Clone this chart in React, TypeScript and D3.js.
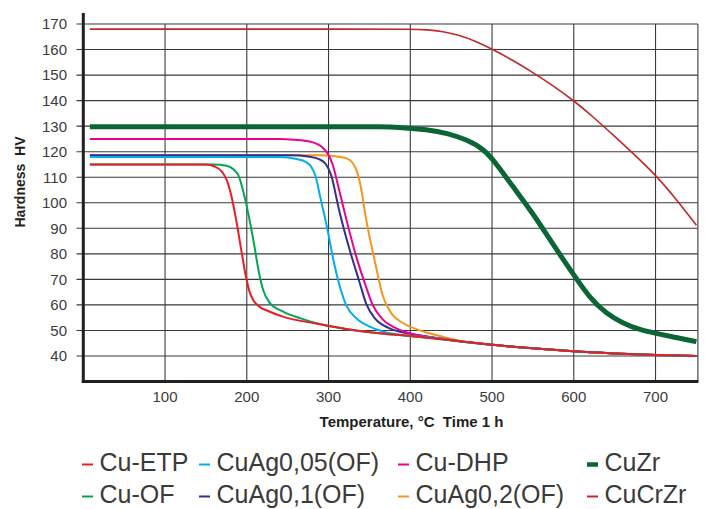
import React from "react";
import * as d3 from "d3";

// ---- data (temperature °C, hardness HV) ----
const cuEtp: [number, number][] = [
  [8, 115], [150, 115], [160, 114.3], [170, 112], [176, 108.5], [182, 101.5], [188, 91.5], [194, 80],
  [199, 71], [203, 65.5], [208, 61.8], [215, 59.4], [226, 57.6], [245, 55.3], [285, 52.7], [325, 50.4],
  [365, 48.8], [400, 47.8], [450, 46.2], [500, 44.4], [550, 43], [600, 41.8], [650, 41], [700, 40.4], [750, 40],
];
const cuOf: [number, number][] = [
  [8, 115], [160, 115], [175, 114.5], [184, 113], [190, 110.5], [194, 106.5], [199, 100], [208, 85.4],
  [215, 72.5], [220, 65.8], [228, 60.8], [245, 57.3], [265, 54.8], [285, 52.8], [325, 50.4], [365, 48.8],
  [400, 47.8], [450, 46.2], [500, 44.4], [550, 43], [600, 41.8], [650, 41], [700, 40.4], [750, 40],
];
const cuAg005: [number, number][] = [
  [8, 117.9], [240, 117.9], [261, 117.1], [272, 116], [279, 114], [284, 110.5], [290, 102], [298, 90.6],
  [306, 77.5], [314, 67], [322, 59.6], [334, 54.8], [351, 51.4], [367, 49.5], [390, 48.2], [425, 47.2],
  [450, 46.2], [500, 44.4], [550, 43], [600, 41.8], [650, 41], [700, 40.4], [750, 40],
];
const cuAg01: [number, number][] = [
  [8, 118.6], [255, 118.6], [275, 118.1], [289, 117], [297, 115], [303, 111], [313, 97], [326, 81.4],
  [338, 68.8], [346, 60.5], [357, 54.6], [374, 50.9], [400, 48.7], [425, 47.3], [450, 46.2], [500, 44.4],
  [550, 43], [600, 41.8], [650, 41], [700, 40.4], [750, 40],
];
const cuDhp: [number, number][] = [
  [8, 125], [240, 125], [258, 124.7], [278, 123.9], [292, 121.8], [300, 118.7], [305, 115], [312, 106.3],
  [322, 93.2], [334, 78.8], [346, 67], [354, 60], [366, 54.4], [383, 50.8], [404, 48.5], [425, 47.4],
  [450, 46.2], [500, 44.4], [550, 43], [600, 41.8], [650, 41], [700, 40.4], [750, 40],
];
const cuAg02: [number, number][] = [
  [8, 118.6], [290, 118.6], [305, 118.3], [322, 117.4], [332, 114.3], [338, 108.5], [346, 93.5],
  [358, 75], [366, 64], [375, 57.6], [391, 52.9], [408, 50.4], [430, 48.3], [460, 46], [500, 44.4],
  [550, 43], [600, 41.8], [650, 41], [700, 40.4], [750, 40],
];
const cuZr: [number, number][] = [
  [8, 129.8], [330, 129.8], [360, 129.8], [390, 129.5], [420, 128.7], [445, 127.3], [470, 124.6],
  [490, 121], [505, 115.5], [525, 106.5], [550, 95.9], [575, 83.5], [600, 71.7], [620, 62.5],
  [640, 56.5], [660, 52.8], [680, 50.3], [700, 48.9], [725, 47.2], [750, 45.6],
];
const cuCrZr: [number, number][] = [
  [8, 168], [370, 168], [400, 168], [420, 167.8], [440, 167.1], [460, 165.6], [480, 163.3],
  [500, 160.2], [525, 155.9], [550, 151], [575, 145.8], [600, 140], [625, 133.3], [650, 126],
  [675, 118.6], [700, 110.9], [725, 101.6], [750, 91.2],
];

const seriesNames = ["Cu-ETP", "CuAg0,05(OF)", "Cu-DHP", "CuZr", "Cu-OF", "CuAg0,1(OF)", "CuAg0,2(OF)", "CuCrZr"];
const seriesData = [cuEtp, cuAg005, cuDhp, cuZr, cuOf, cuAg01, cuAg02, cuCrZr];
const seriesColors = ["#ed1c24", "#00aeef", "#ec008c", "#0b6535", "#00a651", "#2e3192", "#f7941d", "#c1272d"];
const seriesWidths = [2, 2, 2, 5, 2, 2, 2, 1.6];
// draw order (bottom to top)
const drawOrder = [7, 3, 6, 5, 2, 1, 4, 0];
const smoothSeries = [3, 7];

const xTicks = [100, 200, 300, 400, 500, 600, 700];
const yTicks = [40, 50, 60, 70, 80, 90, 100, 110, 120, 130, 140, 150, 160, 170];

const W = 705;
const H = 509;
const font = "'Liberation Sans', Arial, Helvetica, sans-serif";

export default function App() {
  const x = d3.scaleLinear().domain([0, 750]).range([83.3, 696.4]);
  const y = d3.scaleLinear().domain([30, 174]).range([381.5, 13.8]);
  const lineMono = d3
    .line<[number, number]>()
    .x((d) => x(d[0]))
    .y((d) => y(d[1]))
    .curve(d3.curveMonotoneX);
  const lineSmooth = d3
    .line<[number, number]>()
    .x((d) => x(d[0]))
    .y((d) => y(d[1]))
    .curve(d3.curveBasis);

  const gridRight = x(750) + 1.5;
  const legendColX = [82, 199, 398, 587];
  const legendRowY = [471, 503];

  return (
    <svg
      width={W}
      height={H}
      style={{ position: "absolute", left: 0, top: 0, background: "#fff" }}
      fontFamily={font}
    >
      <rect x={0} y={0} width={W} height={H} fill="#fff" />
      {/* horizontal grid */}
      {yTicks.map((t) => (
        <line key={"h" + t} x1={76.5} x2={gridRight} y1={y(t)} y2={y(t)} stroke="#3a3a3a" strokeWidth={1.1} />
      ))}
      {/* vertical grid */}
      {[...xTicks, 750].map((t) => (
        <line key={"v" + t} x1={x(t) + (t === 750 ? 1.5 : 0)} x2={x(t) + (t === 750 ? 1.5 : 0)} y1={y(170)} y2={y(30)} stroke="#3a3a3a" strokeWidth={1.1} />
      ))}
      {/* series */}
      {drawOrder.map((i) => (
        <path
          key={seriesNames[i]}
          d={(smoothSeries.includes(i) ? lineSmooth : lineMono)(seriesData[i]) || ""}
          fill="none"
          stroke={seriesColors[i]}
          strokeWidth={seriesWidths[i]}
        />
      ))}
      {/* axes */}
      <line x1={x(0)} x2={x(0)} y1={13} y2={y(30) + 1.5} stroke="#231f20" strokeWidth={3} />
      <line x1={x(0) - 1.5} x2={gridRight + 0.5} y1={y(30)} y2={y(30)} stroke="#231f20" strokeWidth={3} />
      {/* y tick labels */}
      {yTicks.map((t) => (
        <text key={"yl" + t} x={67} y={y(t) + 5.4} textAnchor="end" fontSize={15} fill="#3c3c3c">
          {t}
        </text>
      ))}
      {/* x tick labels */}
      {xTicks.map((t) => (
        <text key={"xl" + t} x={x(t)} y={402} textAnchor="middle" fontSize={15} fill="#3c3c3c">
          {t}
        </text>
      ))}
      {/* axis titles */}
      <text x={411.5} y={427} textAnchor="middle" fontSize={15} fontWeight="bold" fill="#231f20" style={{ whiteSpace: "pre" }}>
        {"Temperature, °C  Time 1 h"}
      </text>
      <text
        transform={`translate(25,182) rotate(-90)`}
        textAnchor="middle"
        fontSize={14}
        fontWeight="bold"
        fill="#231f20"
        style={{ whiteSpace: "pre" }}
      >
        {"Hardness  HV"}
      </text>
      {/* legend */}
      {seriesNames.map((name, i) => {
        const col = i % 4;
        const row = Math.floor(i / 4);
        const lx = legendColX[col];
        const ly = legendRowY[row];
        const thick = seriesWidths[i] > 3;
        return (
          <g key={"lg" + name}>
            <line
              x1={lx}
              x2={lx + 11}
              y1={ly - 6.5}
              y2={ly - 6.5}
              stroke={seriesColors[i]}
              strokeWidth={thick ? 4.5 : 2}
            />
            <text x={lx + 17.5} y={ly} fontSize={25} fill="#3a3a3a">
              {name}
            </text>
          </g>
        );
      })}
    </svg>
  );
}
